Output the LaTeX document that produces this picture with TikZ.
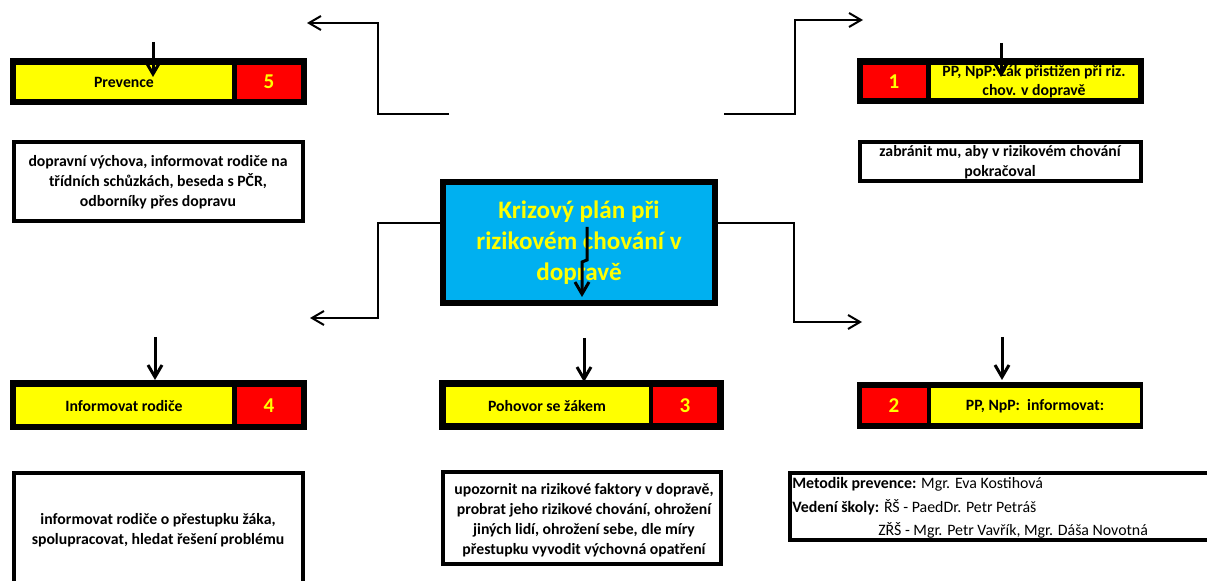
\documentclass[tikz,border=0pt]{standalone}
\usepackage{fontspec}
\setmainfont{Carlito}
\usetikzlibrary{arrows.meta}
\definecolor{zluta}{HTML}{FFFF00}
\definecolor{cervena}{HTML}{FF0000}
\definecolor{modra}{HTML}{00B0F0}

\begin{document}
\begin{tikzpicture}[x=0.25mm, y=-0.25mm, >={Straight Barb[length=3mm,width=3.5mm]},
    font=\bfseries\fontsize{11.2}{14.2}\selectfont,
    ramec/.style={draw, line width=1mm},
    spoj/.style={->, line width=0.5mm},
    sipka/.style={->, line width=0.75mm},
    cislo/.style={text=zluta, font=\bfseries\fontsize{15}{18}\selectfont},
    popis/.style={align=center},
    udaj/.style={anchor=west, inner sep=0pt, font=\fontsize{11.3}{13}\selectfont}]

    \useasboundingbox (0,0) rectangle (1207,581);

    \coordinate (a01) at (10,58);    \coordinate (a02) at (307,105);
    \coordinate (a03) at (857,58);   \coordinate (a04) at (1144,104);
    \coordinate (a05) at (10,380);   \coordinate (a06) at (307,430);
    \coordinate (a07) at (439,380);  \coordinate (a08) at (724,430);
    \coordinate (a09) at (857,382);  \coordinate (a10) at (1143,429);

    \coordinate (k1) at (307,23);    \coordinate (z1) at (449,114);
    \coordinate (k2) at (863,20);    \coordinate (z2) at (724,114);
    \coordinate (k3) at (310,318);
    \coordinate (k4) at (862,322);

    \coordinate (s01) at (153,42);   \coordinate (s02) at (153,77);
    \coordinate (s03) at (1001,43);  \coordinate (s04) at (1001,77);
    \coordinate (s05) at (155,337);  \coordinate (s06) at (155,380);
    \coordinate (s07) at (584,338);  \coordinate (s08) at (584,382);
    \coordinate (s09) at (1002,337); \coordinate (s10) at (1002,380);

    % pruhy s cisly
    \fill (a01) rectangle (a02);
    \fill[zluta] (16,65) rectangle (232,99);
    \fill[cervena] (237,65) rectangle (301,99);

    \fill (a03) rectangle (a04);
    \fill[cervena] (863,65) rectangle (926,98);
    \fill[zluta] (931,65) rectangle (1138,98);

    \fill (a05) rectangle (a06);
    \fill[zluta] (16,387) rectangle (232,424);
    \fill[cervena] (237,387) rectangle (301,424);

    \fill (a07) rectangle (a08);
    \fill[zluta] (446,387) rectangle (649,423);
    \fill[cervena] (653,387) rectangle (717,423);

    \fill (a09) rectangle (a10);
    \fill[cervena] (862,388) rectangle (927,423);
    \fill[zluta] (931,388) rectangle (1140,423);

    % textova pole
    \draw[ramec] (14,142) rectangle (303,221);
    \draw[ramec] (860,142) rectangle (1141,181);
    \draw[ramec] (14,473) rectangle (303,600);
    \draw[ramec] (443,472) rectangle (721,564);
    \draw[ramec] (790,473) rectangle (1230,540);

    \node[draw, line width=1.5mm, fill=modra, text=zluta, minimum width=68mm, minimum height=30.25mm,
          align=center, font=\bfseries\fontsize{17.9}{22}\selectfont] (plan) at (579,242.5)
          {Krizový plán při\\ rizikovém chování v\\ dopravě};

    \node[popis] (prevence) at (124,82) {Prevence};
    \node[cislo] (c5) at (269,82) {5};
    \node[popis] (t5) at (158,182) {dopravní výchova, informovat rodiče na\\ třídních schůzkách, beseda s PČR,\\ odborníky přes dopravu};

    \node[cislo] (c1) at (894,82) {1};
    \node[popis, font=\bfseries\fontsize{11.2}{13.5}\selectfont] (zak) at (1034,82) {PP, NpP: žák přistižen při riz.\\ chov. v dopravě};
    \node[popis] (t1) at (1000,162) {zabránit mu, aby v rizikovém chování\\ pokračoval};

    \node[popis] (rodice) at (124,406) {Informovat rodiče};
    \node[cislo] (c4) at (269,406) {4};
    \node[popis] (t4) at (158,530) {informovat rodiče o přestupku žáka,\\ spolupracovat, hledat řešení problému};

    \node[popis] (pohovor) at (547,406) {Pohovor se žákem};
    \node[cislo] (c3) at (685,406) {3};
    \node[popis] (t3) at (584,520) {upozornit na rizikové faktory v dopravě,\\ probrat jeho rizikové chování, ohrožení\\ jiných lidí, ohrožení sebe, dle míry\\ přestupku vyvodit výchovná opatření};

    \node[cislo] (c2) at (894,406) {2};
    \node[popis] (inform) at (1035,406) {PP, NpP:\ \ informovat:};

    \node[udaj] (info1) at (792,484) {\textbf{Metodik prevence:} Mgr. Eva Kostihová};
    \node[udaj] (info2) at (792,507) {\textbf{Vedení školy:} ŘŠ - PaedDr. Petr Petráš};
    \node[udaj] (info3) at (878,530) {ZŘŠ - Mgr. Petr Vavřík, Mgr. Dáša Novotná};

    % spojnice
    \draw[spoj] (z1) -| (378,23) -- (k1);
    \draw[spoj] (z2) -| (795,20) -- (k2);
    \draw[spoj] ([yshift=4.9mm]plan.west) -| (378,318) -- (k3);
    \draw[spoj] ([yshift=4.9mm]plan.east) -| (794,322) -- (k4);

    \draw[sipka] (s01) -- (s02);
    \draw[sipka] (s03) -- (s04);
    \draw[sipka] (s05) -- (s06);
    \draw[sipka] (s07) -- (s08);
    \draw[sipka] (s09) -- (s10);
    \draw[sipka] (587,227) -- (587,260) -- (582,262) -- (582,297);

\end{tikzpicture}
\end{document}
